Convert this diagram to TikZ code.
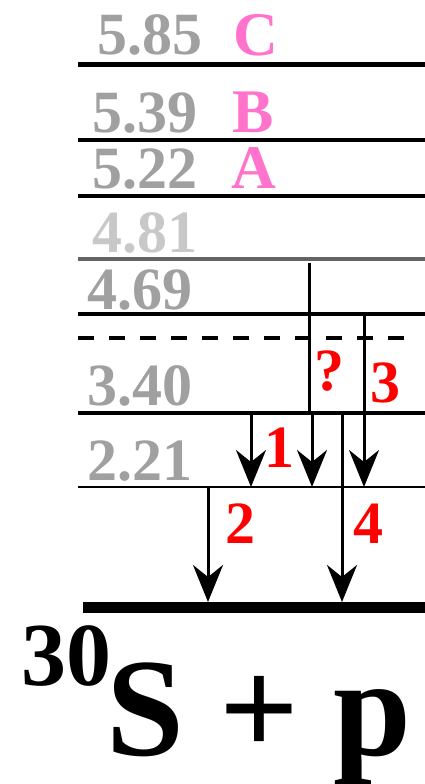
\documentclass[tikz,border=0pt]{standalone}
\usepackage{fontspec}
\setmainfont{Liberation Serif}
\usetikzlibrary{arrows.meta}

\definecolor{lvlgray}{RGB}{160,160,160}
\definecolor{lvllight}{RGB}{200,200,200}
\definecolor{lvldark}{RGB}{100,100,100}
\definecolor{respink}{RGB}{255,115,205}

\tikzset{
  level/.style={line width=4.5pt},
  energy/.style={font=\fontsize{60}{60}\selectfont\bfseries, text=lvlgray,
    anchor=base west, inner sep=0pt},
  resname/.style={font=\fontsize{62}{62}\selectfont\bfseries, text=respink,
    anchor=base west, inner sep=0pt},
  trans/.style={line width=3pt, -{Stealth[length=37pt, width=30pt, inset=12pt]}},
  translabel/.style={font=\fontsize{60}{60}\selectfont\bfseries, text=red,
    anchor=base west, inner sep=0pt}
}

\begin{document}
\begin{tikzpicture}[x=1pt, y=-1pt]
  \useasboundingbox (0,0) rectangle (425,784);

  % ---- levels (left ends) ----
  \coordinate (lC)   at (78,64.5);
  \coordinate (lB)   at (78,140);
  \coordinate (lA)   at (78,196);
  \coordinate (l481) at (78,259);
  \coordinate (l469) at (78,314);
  \coordinate (ldash) at (78,338);
  \coordinate (l340) at (78,413);
  \coordinate (l221) at (78,487);
  \coordinate (gs)   at (83,607);
  \coordinate (gtop) at (83,602);
  \coordinate (redge) at (425,0);

  \draw[level] (lC) -- (lC -| redge);
  \draw[level] (lB) -- (lB -| redge);
  \draw[level] (lA) -- (lA -| redge);
  \draw[level, lvldark, line width=4pt] (l481) -- (l481 -| redge);
  \draw[level] (l469) -- (l469 -| redge);
  \draw[line width=3.5pt, dash pattern=on 15.5pt off 15.5pt] (ldash) -- ++(329,0);
  \draw[level] (l340) -- (l340 -| redge);
  \draw[line width=2.5pt] (l221) -- (l221 -| redge);
  \draw[line width=11pt] (gs) -- (gs -| redge);

  % ---- level energies ----
  \node[energy] (e585) at (97,55)  {5.85};
  \node[resname] (rC)  at (233,56) {C};
  \node[energy] (e539) at (92,132) {5.39};
  \node[resname] (rB)  at (232,132) {B};
  \node[energy] (e522) at (92,188) {5.22};
  \node[resname] (rA)  at (231,188) {A};
  \node[energy, text=lvllight] (e481) at (92,252) {4.81};
  \node[energy] (e469) at (87,309) {4.69};
  \node[energy] (e340) at (87,405) {3.40};
  \node[energy] (e221) at (87,480) {2.21};

  % ---- transitions ----
  \coordinate (x1) at (251,0);
  \coordinate (x2) at (208,0);
  \coordinate (x3) at (364,0);
  \coordinate (x4) at (342,0);
  \coordinate (xq) at (309,0);
  \coordinate (xq2) at (312,0);

  \draw[line width=3pt] (xq |- l481) ++(0,4) -- (xq |- l340);
  \draw[trans] (xq2 |- l340) -- (xq2 |- l221);
  \draw[trans] (x1 |- l340) -- (x1 |- l221);
  \draw[trans] (x3 |- l469) -- (x3 |- l221);
  \draw[trans] (x2 |- l221) -- (x2 |- gtop);
  \draw[trans] (x4 |- l340) -- (x4 |- gtop);

  \node[translabel] (tq) at (314,390) {?};
  \node[translabel] (t1) at (264,467) {1};
  \node[translabel] (t3) at (370,402) {3};
  \node[translabel] (t2) at (225,543) {2};
  \node[translabel] (t4) at (353,543) {4};

  % ---- ground state ----
  \node[anchor=base west, inner sep=0pt, font=\fontsize{140}{140}\selectfont\bfseries]
    (gsname) at (21,755) {\raisebox{70pt}{\fontsize{90}{90}\selectfont 30}\kern-5pt S + p};

\end{tikzpicture}
\end{document}
